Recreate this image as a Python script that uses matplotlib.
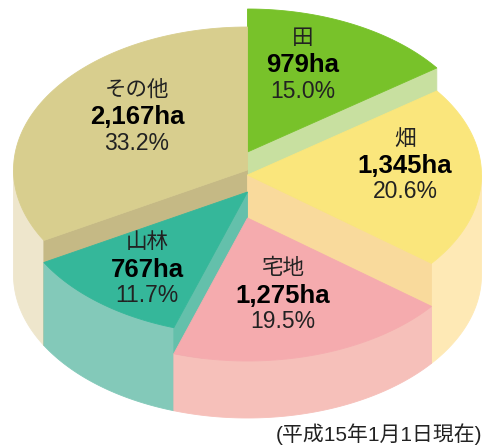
import numpy as np
import matplotlib
matplotlib.use('Agg')
from matplotlib import pyplot as plt
from matplotlib.patches import Polygon

# land use, as of 1 Jan H15
labels = ['田', '畑', '宅地', '山林', 'その他']
area_ha = ['979', '1,345', '1,275', '767', '2,167']
share_pct = [15.0, 20.6, 19.5, 11.7, 33.2]

# styling per slice
top_colors = ['#78c22a', '#fae67c', '#f5abae', '#35b79a', '#d8ce8e']
cut_colors = ['#c8e0a0', '#f9da9c', '#f6c0ba', '#64c0ab', '#c5b985']
rim_colors = ['#c8e0a0', '#fee9b5', '#f6c0ba', '#83c9b9', '#eee6cc']
heights = [123, 100, 57, 83, 105]          # block height of each slice, px
label_xy = [(303, 65), (405, 166), (283, 296), (147, 270), (137, 117)]

# pie geometry in pixel space
cx, cy = 247.5, 170.0      # centre of the reference top plane
rx, ry = 234.0, 143.0
base = 105.0               # reference height; bottom plane is at cy + base

plt.rcParams['font.family'] = ['Liberation Sans', 'Noto Sans CJK JP']

fig = plt.figure(figsize=(4.85, 4.48), dpi=100)
ax = fig.add_axes([0, 0, 1, 1])
ax.set_xlim(0, 485)
ax.set_ylim(448, 0)
ax.axis('off')


def arc(a0, a1, dy, n=80):
    t = np.radians(np.linspace(a0, a1, n))
    return np.column_stack([cx + rx * np.sin(t), cy + dy - ry * np.cos(t)])


def poly(pts, color):
    ax.add_patch(Polygon(pts, closed=True, facecolor=color, edgecolor=color, lw=0.6))


edges = np.concatenate([[0], np.cumsum(share_pct)]) * 3.6
n = len(share_pct)
bottom = base

for i in sorted(range(n), key=lambda k: -heights[k]):
    a0, a1 = edges[i], edges[i + 1]
    top = base - heights[i]

    # outer rim, only the front half shows
    s0, s1 = max(a0, 90), min(a1, 270)
    if s1 > s0:
        poly(np.vstack([arc(s0, s1, top), arc(s1, s0, bottom)]), rim_colors[i])

    # cut faces toward a lower neighbour
    for ang, nb in ((a0, (i - 1) % n), (a1, (i + 1) % n)):
        if heights[i] > heights[nb]:
            p_top = arc(ang, ang, top, 1)[0]
            p_bot = arc(ang, ang, bottom, 1)[0]
            poly([(cx, cy + top), p_top, p_bot, (cx, cy + bottom)], cut_colors[i])

    # top face
    poly(np.vstack([[(cx, cy + top)], arc(a0, a1, top)]), top_colors[i])

for i in range(n):
    x, y = label_xy[i]
    ax.text(x, y - 27, labels[i], ha='center', va='center', fontsize=15.5, color='#222222')
    ax.text(x, y, area_ha[i] + 'ha', ha='center', va='center', fontsize=18.5,
            fontweight='bold', color='black')
    ax.text(x, y + 26, f'{share_pct[i]:.1f}%', ha='center', va='center', fontsize=16.5,
            color='#222222')

ax.text(482, 434, '(平成15年1月1日現在)', ha='right', va='center', fontsize=15,
        color='#222222')

fig.savefig('out.png', dpi=100)
